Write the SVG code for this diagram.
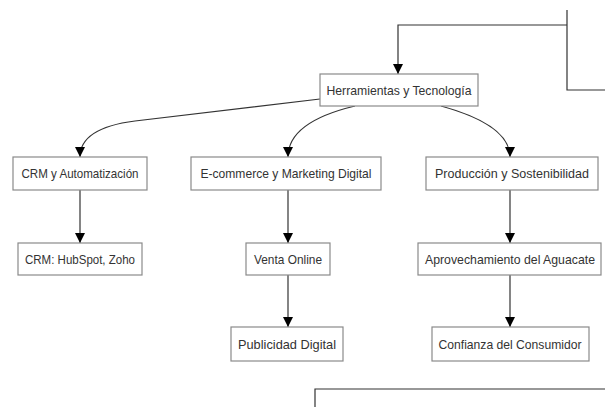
<svg xmlns="http://www.w3.org/2000/svg" width="605" height="416" viewBox="0 0 605 416">
<defs>
<marker id="arr" viewBox="0 0 10 10" refX="10" refY="5" markerWidth="10" markerHeight="10" markerUnits="userSpaceOnUse" orient="auto">
<path d="M0,0 L10,5 L0,10 z" fill="#000"/>
</marker>
<style>
.n rect{fill:#fff;stroke:#8a8a8a;stroke-width:1.2}
.n text{font-family:"Liberation Sans","DejaVu Sans",sans-serif;font-size:13px;fill:#333;text-anchor:middle;dominant-baseline:central}
.e path{fill:none;stroke:#333;stroke-width:1.2}
.e .a{marker-end:url(#arr)}
</style>
</defs>
<rect width="605" height="416" fill="#fff"/>
<g class="e">
<path d="M567,10 V90 H605"/>
<path class="a" d="M567,25 H398 V74"/>
<path d="M315,407 V389 H605"/>
<path class="a" d="M320,99 L135,121 Q80,128 80,157"/>
<path class="a" d="M355,106 Q288,122 288,157"/>
<path class="a" d="M441,106 Q510,125 510,157"/>
<path class="a" d="M80,190 V243"/>
<path class="a" d="M288,190 V243"/>
<path class="a" d="M288,275 V327"/>
<path class="a" d="M510,190 V243"/>
<path class="a" d="M510,275 V327"/>
</g>
<g id="herr" class="n"><rect x="320" y="74" width="158" height="32"/><text x="399" y="90" textLength="145" lengthAdjust="spacingAndGlyphs">Herramientas y Tecnología</text></g>
<g id="crm" class="n"><rect x="13" y="157" width="134" height="33"/><text x="80" y="173.5" textLength="117" lengthAdjust="spacingAndGlyphs">CRM y Automatización</text></g>
<g id="ecom" class="n"><rect x="191" y="157" width="190" height="33"/><text x="286" y="173.5" textLength="171" lengthAdjust="spacingAndGlyphs">E-commerce y Marketing Digital</text></g>
<g id="prod" class="n"><rect x="426" y="157" width="172" height="33"/><text x="512" y="173.5" textLength="154" lengthAdjust="spacingAndGlyphs">Producción y Sostenibilidad</text></g>
<g id="hub" class="n"><rect x="18" y="243" width="124" height="32"/><text x="80" y="259" textLength="110" lengthAdjust="spacingAndGlyphs">CRM: HubSpot, Zoho</text></g>
<g id="venta" class="n"><rect x="246" y="243" width="84" height="32"/><text x="288" y="259" textLength="68" lengthAdjust="spacingAndGlyphs">Venta Online</text></g>
<g id="aprov" class="n"><rect x="418" y="243" width="183" height="32"/><text x="510" y="259" textLength="170" lengthAdjust="spacingAndGlyphs">Aprovechamiento del Aguacate</text></g>
<g id="publi" class="n"><rect x="231" y="327" width="112" height="34"/><text x="287" y="344" textLength="98" lengthAdjust="spacingAndGlyphs">Publicidad Digital</text></g>
<g id="conf" class="n"><rect x="432" y="327" width="157" height="34"/><text x="510" y="344" textLength="143" lengthAdjust="spacingAndGlyphs">Confianza del Consumidor</text></g>
</svg>
